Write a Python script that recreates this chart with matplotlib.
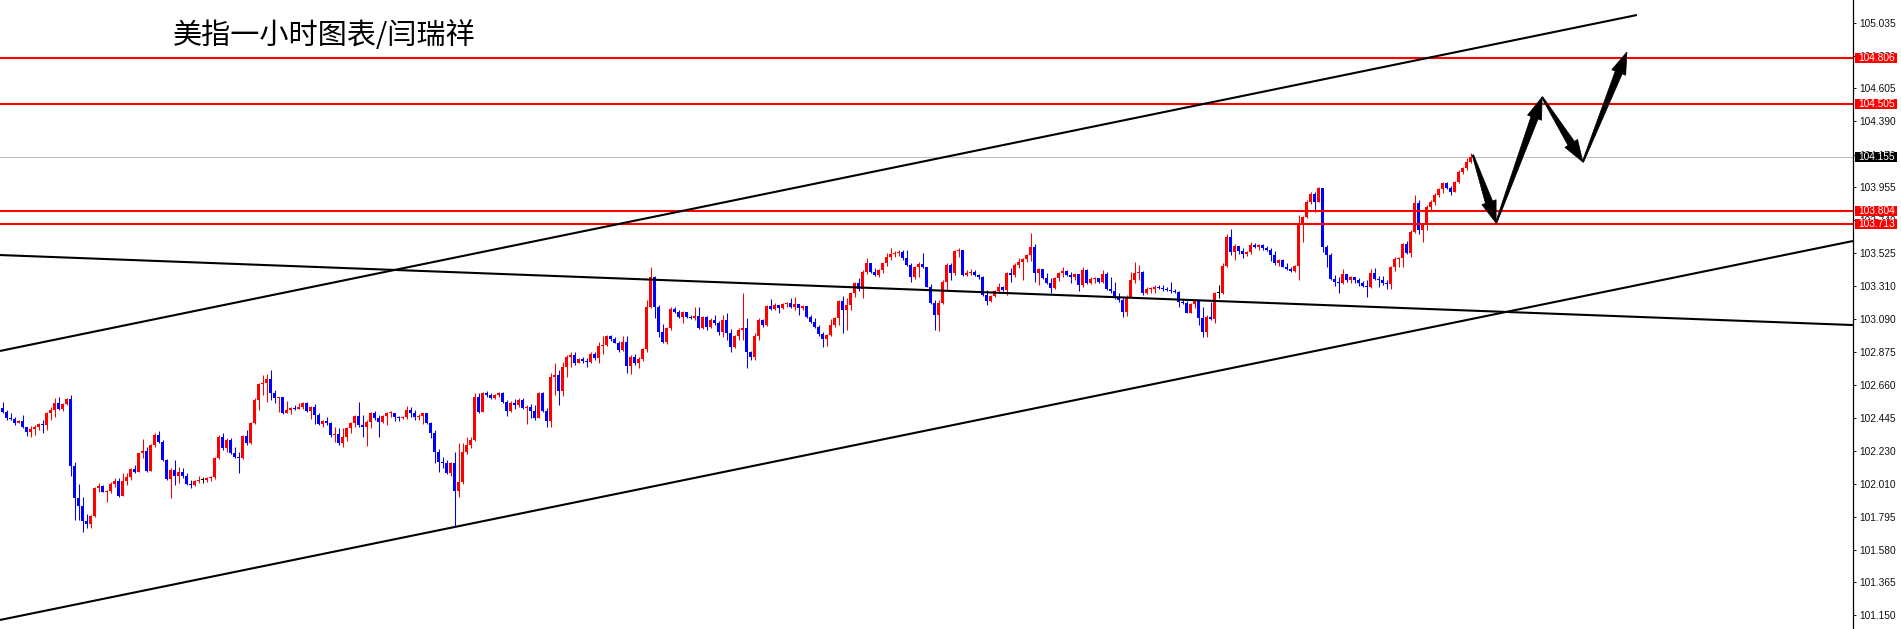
import numpy as np
import matplotlib
matplotlib.use("Agg")
import matplotlib.pyplot as plt
from matplotlib.patches import Polygon, Rectangle
from matplotlib.transforms import IdentityTransform, blended_transform_factory

# ---------------- data ----------------
title = "美指一小时图表/闫瑞祥"

open_first = 102.507
closes = [
    102.485, 102.441, 102.434, 102.408, 102.426, 102.383, 102.350, 102.370, 102.383, 102.404,
    102.398, 102.475, 102.496, 102.544, 102.503, 102.535, 102.566, 102.128, 101.916, 101.867,
    101.770, 101.749, 101.800, 101.982, 101.997, 101.961, 101.967, 102.010, 102.030, 101.931,
    102.032, 102.055, 102.107, 102.090, 102.211, 102.228, 102.098, 102.267, 102.331, 102.288,
    102.168, 102.042, 102.103, 102.060, 102.092, 102.064, 102.010, 102.004, 102.032, 102.036,
    102.036, 102.049, 102.055, 102.179, 102.320, 102.245, 102.299, 102.211, 102.190, 102.179,
    102.325, 102.277, 102.413, 102.562, 102.667, 102.671, 102.697, 102.609, 102.572, 102.579,
    102.479, 102.496, 102.507, 102.503, 102.513,
    102.544, 102.492, 102.513, 102.464, 102.404, 102.426, 102.408, 102.331, 102.338, 102.278,
    102.320, 102.376, 102.408, 102.458, 102.398, 102.387, 102.419, 102.479, 102.441, 102.419,
    102.458, 102.475, 102.479, 102.449, 102.441, 102.449, 102.496, 102.475, 102.449, 102.458,
    102.475, 102.413, 102.344, 102.222, 102.157, 102.151, 102.085, 102.151, 101.967, 102.025,
    102.222, 102.267, 102.299, 102.583, 102.486, 102.605, 102.594, 102.573, 102.594, 102.605,
    102.551, 102.492, 102.544, 102.529, 102.562, 102.507, 102.518, 102.492, 102.441, 102.605,
    102.492, 102.426, 102.714, 102.725, 102.622, 102.776, 102.845, 102.858, 102.806, 102.828,
    102.819, 102.813, 102.864, 102.834, 102.916,
    102.922, 102.982, 102.961, 102.937, 102.890, 102.943, 102.785, 102.845, 102.802, 102.828,
    102.894, 103.174, 103.367, 103.174, 103.010, 102.943, 103.031, 103.155, 103.140, 103.103,
    103.140, 103.103, 103.099, 103.112, 103.031, 103.103, 103.042, 103.086, 103.065, 103.010,
    103.086, 103.003, 102.907, 102.978, 103.021, 103.031, 102.873, 102.841, 102.978, 103.086,
    103.053, 103.178, 103.155, 103.185, 103.163, 103.191, 103.195, 103.174, 103.191, 103.163,
    103.178, 103.103, 103.075, 103.042, 102.995, 102.961, 102.988, 103.053, 103.097, 103.213,
    103.150, 103.185, 103.262, 103.326, 103.288, 103.404, 103.457, 103.404, 103.382, 103.414,
    103.457, 103.501, 103.518, 103.523, 103.531,
    103.490, 103.446, 103.367, 103.431, 103.453, 103.431, 103.305, 103.200, 103.118, 103.200,
    103.337, 103.446, 103.393, 103.540, 103.544, 103.382, 103.397, 103.401, 103.382, 103.371,
    103.249, 103.213, 103.243, 103.273, 103.301, 103.283, 103.393, 103.382, 103.446, 103.469,
    103.484, 103.512, 103.568, 103.393, 103.419, 103.359, 103.331, 103.294, 103.359, 103.393,
    103.410, 103.382, 103.367, 103.388, 103.316, 103.414, 103.331, 103.352, 103.359, 103.337,
    103.388, 103.288, 103.279, 103.238, 103.217, 103.140, 103.238, 103.348, 103.397, 103.404,
    103.262, 103.288, 103.292, 103.305, 103.294, 103.288, 103.283, 103.273, 103.270, 103.206,
    103.200, 103.133, 103.191, 103.213, 103.097,
    103.010, 103.103, 103.094, 103.262, 103.262, 103.440, 103.628, 103.533, 103.572, 103.540,
    103.518, 103.533, 103.578, 103.567, 103.578, 103.555, 103.544, 103.512, 103.457, 103.480,
    103.436, 103.418, 103.410, 103.440, 103.709, 103.763, 103.861, 103.915,
    103.861, 103.950, 103.568, 103.512, 103.352, 103.337, 103.331, 103.389, 103.348, 103.367,
    103.348, 103.326, 103.309, 103.305, 103.397, 103.352, 103.348, 103.331, 103.322, 103.432,
    103.484, 103.491, 103.585, 103.527, 103.664, 103.851, 103.677, 103.709, 103.829, 103.862,
    103.907, 103.943, 103.987, 103.950, 103.928, 103.994, 104.058, 104.081, 104.120, 104.155,
]
highs = [
    102.546, 102.496, 102.475, 102.453, 102.430, 102.464, 102.387, 102.393, 102.398, 102.408,
    102.430, 102.485, 102.513, 102.572, 102.579, 102.539, 102.572, 102.594, 102.157, 102.010,
    101.927, 101.817, 101.807, 101.989, 102.015, 102.004, 101.972, 102.025, 102.049, 102.049,
    102.081, 102.081, 102.113, 102.135, 102.215, 102.303, 102.256, 102.273, 102.342, 102.355,
    102.299, 102.172, 102.113, 102.168, 102.120, 102.113, 102.081, 102.036, 102.036, 102.060,
    102.055, 102.055, 102.060, 102.185, 102.331, 102.342, 102.310, 102.310, 102.256, 102.222,
    102.331, 102.365, 102.419, 102.572, 102.671, 102.725, 102.731, 102.759, 102.626, 102.583,
    102.579, 102.557, 102.518, 102.528, 102.539,
    102.551, 102.551, 102.522, 102.535, 102.479, 102.430, 102.449, 102.419, 102.387, 102.376,
    102.376, 102.387, 102.419, 102.464, 102.551, 102.464, 102.430, 102.486, 102.492, 102.464,
    102.464, 102.483, 102.492, 102.479, 102.458, 102.458, 102.522, 102.518, 102.496, 102.471,
    102.479, 102.479, 102.419, 102.365, 102.237, 102.185, 102.168, 102.157, 102.222, 102.278,
    102.278, 102.320, 102.320, 102.609, 102.605, 102.613, 102.622, 102.609, 102.600, 102.615,
    102.615, 102.562, 102.557, 102.566, 102.573, 102.573, 102.529, 102.535, 102.529, 102.615,
    102.615, 102.507, 102.736, 102.802, 102.759, 102.813, 102.858, 102.879, 102.873, 102.834,
    102.841, 102.834, 102.879, 102.879, 102.944,
    102.978, 102.988, 102.988, 102.973, 102.950, 102.978, 102.978, 102.858, 102.864, 102.845,
    102.901, 103.217, 103.436, 103.376, 103.185, 103.060, 103.042, 103.170, 103.174, 103.150,
    103.146, 103.140, 103.118, 103.170, 103.170, 103.112, 103.112, 103.097, 103.118, 103.082,
    103.118, 103.129, 103.025, 102.988, 103.031, 103.262, 103.097, 102.885, 102.999, 103.097,
    103.090, 103.185, 103.221, 103.200, 103.185, 103.200, 103.204, 103.228, 103.238, 103.191,
    103.185, 103.170, 103.118, 103.097, 103.053, 103.010, 102.995, 103.090, 103.103, 103.217,
    103.243, 103.228, 103.266, 103.337, 103.359, 103.414, 103.490, 103.461, 103.425, 103.419,
    103.461, 103.523, 103.555, 103.540, 103.544,
    103.548, 103.544, 103.461, 103.440, 103.469, 103.523, 103.436, 103.322, 103.217, 103.217,
    103.348, 103.457, 103.457, 103.548, 103.555, 103.548, 103.414, 103.419, 103.414, 103.388,
    103.376, 103.283, 103.249, 103.283, 103.326, 103.309, 103.404, 103.425, 103.457, 103.490,
    103.490, 103.518, 103.654, 103.585, 103.425, 103.404, 103.393, 103.359, 103.367, 103.404,
    103.436, 103.414, 103.404, 103.397, 103.382, 103.436, 103.419, 103.367, 103.371, 103.359,
    103.414, 103.404, 103.371, 103.337, 103.266, 103.238, 103.249, 103.404, 103.469, 103.446,
    103.410, 103.305, 103.301, 103.316, 103.316, 103.316, 103.305, 103.337, 103.288, 103.273,
    103.221, 103.213, 103.200, 103.221, 103.217,
    103.174, 103.118, 103.206, 103.272, 103.315, 103.457, 103.653, 103.681, 103.585, 103.572,
    103.555, 103.540, 103.600, 103.589, 103.585, 103.585, 103.572, 103.561, 103.540, 103.484,
    103.484, 103.457, 103.431, 103.446, 103.776, 103.767, 103.872, 103.928,
    103.928, 103.960, 103.939, 103.578, 103.527, 103.382, 103.371, 103.419, 103.389, 103.376,
    103.359, 103.359, 103.343, 103.348, 103.419, 103.425, 103.376, 103.376, 103.348, 103.440,
    103.497, 103.501, 103.593, 103.606, 103.677, 103.907, 103.874, 103.720, 103.840, 103.874,
    103.917, 103.950, 103.994, 103.994, 103.965, 104.000, 104.069, 104.092, 104.146, 104.182,
]
lows = [
    102.479, 102.430, 102.430, 102.398, 102.408, 102.376, 102.327, 102.320, 102.331, 102.365,
    102.342, 102.365, 102.430, 102.453, 102.496, 102.490, 102.528, 102.060, 101.774, 101.774,
    101.698, 101.720, 101.720, 101.796, 101.961, 101.955, 101.895, 101.950, 101.993, 101.927,
    101.931, 102.004, 102.036, 102.081, 102.090, 102.179, 102.092, 102.098, 102.256, 102.282,
    102.164, 102.036, 101.922, 102.004, 102.015, 102.049, 102.004, 101.982, 101.997, 102.019,
    102.019, 102.025, 102.032, 102.042, 102.172, 102.232, 102.222, 102.207, 102.179, 102.085,
    102.172, 102.267, 102.273, 102.404, 102.496, 102.594, 102.551, 102.562, 102.539, 102.485,
    102.468, 102.475, 102.468, 102.496, 102.501,
    102.501, 102.486, 102.434, 102.404, 102.398, 102.383, 102.398, 102.316, 102.288, 102.267,
    102.256, 102.295, 102.348, 102.387, 102.387, 102.320, 102.260, 102.376, 102.430, 102.320,
    102.413, 102.398, 102.453, 102.426, 102.426, 102.434, 102.434, 102.449, 102.430, 102.430,
    102.404, 102.404, 102.310, 102.151, 102.092, 102.113, 102.077, 102.060, 101.730, 101.927,
    102.010, 102.207, 102.245, 102.295, 102.475, 102.486, 102.579, 102.566, 102.570, 102.579,
    102.544, 102.458, 102.486, 102.501, 102.518, 102.501, 102.404, 102.441, 102.430, 102.441,
    102.486, 102.387, 102.383, 102.594, 102.529, 102.587, 102.710, 102.776, 102.791, 102.802,
    102.806, 102.781, 102.802, 102.824, 102.806,
    102.864, 102.916, 102.950, 102.933, 102.879, 102.885, 102.740, 102.731, 102.791, 102.770,
    102.819, 102.879, 103.163, 103.097, 102.973, 102.937, 102.928, 103.021, 103.129, 103.097,
    103.069, 103.097, 103.090, 103.086, 103.025, 103.025, 103.021, 103.031, 103.053, 102.988,
    102.973, 102.954, 102.879, 102.901, 102.954, 102.954, 102.770, 102.823, 102.823, 102.954,
    103.038, 103.046, 103.150, 103.150, 103.133, 103.155, 103.170, 103.163, 103.150, 103.118,
    103.150, 103.097, 103.069, 103.031, 102.982, 102.907, 102.916, 102.978, 103.038, 103.053,
    103.003, 103.021, 103.150, 103.238, 103.279, 103.228, 103.389, 103.397, 103.376, 103.371,
    103.397, 103.440, 103.480, 103.501, 103.505,
    103.480, 103.440, 103.337, 103.352, 103.371, 103.425, 103.301, 103.191, 103.021, 103.016,
    103.191, 103.273, 103.348, 103.382, 103.501, 103.376, 103.376, 103.382, 103.376, 103.352,
    103.243, 103.185, 103.206, 103.238, 103.262, 103.279, 103.249, 103.337, 103.371, 103.425,
    103.348, 103.469, 103.475, 103.337, 103.316, 103.352, 103.322, 103.262, 103.288, 103.343,
    103.371, 103.376, 103.331, 103.348, 103.273, 103.305, 103.322, 103.322, 103.331, 103.331,
    103.326, 103.283, 103.262, 103.221, 103.206, 103.103, 103.112, 103.228, 103.326, 103.348,
    103.249, 103.256, 103.262, 103.262, 103.288, 103.279, 103.277, 103.266, 103.262, 103.174,
    103.191, 103.129, 103.129, 103.163, 103.053,
    102.977, 102.977, 103.086, 103.069, 103.228, 103.255, 103.431, 103.512, 103.480, 103.522,
    103.490, 103.505, 103.522, 103.555, 103.544, 103.548, 103.540, 103.475, 103.446, 103.440,
    103.431, 103.414, 103.403, 103.403, 103.348, 103.600, 103.752, 103.846,
    103.797, 103.879, 103.533, 103.436, 103.348, 103.309, 103.266, 103.322, 103.337, 103.331,
    103.326, 103.309, 103.305, 103.236, 103.294, 103.348, 103.305, 103.316, 103.288, 103.288,
    103.410, 103.432, 103.432, 103.518, 103.501, 103.654, 103.649, 103.600, 103.677, 103.804,
    103.840, 103.892, 103.917, 103.943, 103.907, 103.928, 103.987, 104.043, 104.069, 104.115,
]

tick_values = [105.035, 104.820, 104.605, 104.390, 104.170, 103.955, 103.740, 103.525,
               103.310, 103.090, 102.875, 102.660, 102.445, 102.230, 102.010, 101.795,
               101.580, 101.365, 101.150]
red_levels = [104.806, 104.505, 103.804, 103.713]
current_price = 104.155

# trend lines (candle index, price)
upper_channel_x = [-0.625, 408.6]
upper_channel_y = [102.883, 105.086]
lower_channel_x = [-0.625, 462.6]
lower_channel_y = [101.119, 103.604]
falling_line_x = [-0.625, 462.6]
falling_line_y = [103.512, 103.053]

# projected zig-zag path (candle index, price)
arrow_x = [367.6, 373.4, 384.9, 395.1, 406.1]
arrow_y = [104.168, 103.722, 104.548, 104.122, 104.843]

# ---------------- figure ----------------
W, H = 1901, 629
fig = plt.figure(figsize=(W / 100, H / 100), dpi=100)
fig.patch.set_facecolor("white")
ax_w_px = 1853
ax = fig.add_axes([0, 0, ax_w_px / W, 1])
ax.set_facecolor("white")
ax.set_xlim(-0.625, (ax_w_px - 2.5) / 4)
ax.set_ylim(101.0598, 105.1844)

for s in ["top", "left", "bottom"]:
    ax.spines[s].set_visible(False)
ax.spines["right"].set_color("black")
ax.spines["right"].set_linewidth(0.9)
ax.xaxis.set_visible(False)
ax.yaxis.tick_right()
ax.set_yticks(tick_values)
ax.set_yticklabels([f"{v:.3f}" for v in tick_values])
ax.tick_params(axis="y", direction="out", length=2.5, width=0.7, pad=2.2,
               labelsize=7.3, colors="#111111")
for lbl in ax.get_yticklabels():
    lbl.set_fontfamily("Liberation Sans")

# candles
c = np.array(closes)
o = np.r_[open_first, c[:-1]]
h = np.maximum(np.array(highs), np.maximum(o, c))
l = np.minimum(np.array(lows), np.minimum(o, c))
x = np.arange(len(c))
cols = np.where(c > o, "#FF0000", np.where(c < o, "#0000FF", "#000000"))
ax.vlines(x, l, h, colors=cols, linewidth=0.75, zorder=2)
ax.bar(x, np.maximum(np.abs(c - o), 0.005), bottom=np.minimum(o, c), width=0.75,
       color=cols, linewidth=0, zorder=3)

# horizontal levels
ax.axhline(current_price, color="#C0C0C0", lw=0.75, zorder=1)
for lv in red_levels:
    ax.axhline(lv, color="#FF0000", lw=1.5, zorder=5)

# trend lines
for xs, ys in [(upper_channel_x, upper_channel_y), (lower_channel_x, lower_channel_y),
               (falling_line_x, falling_line_y)]:
    ax.plot(xs, ys, color="black", lw=1.5, zorder=6, solid_capstyle="butt")

# highlighted price labels on the axis
trans = blended_transform_factory(ax.transAxes, ax.transData)
px_per_unit = H / (105.1844 - 101.0598)
box_h = 10 / px_per_unit
for lv, fc in [(v, "#FF0000") for v in red_levels] + [(current_price, "#000000")]:
    ax.add_patch(Rectangle((1855 / ax_w_px, lv - box_h / 2), 42 / ax_w_px, box_h,
                           transform=trans, facecolor=fc, edgecolor="none",
                           clip_on=False, zorder=10))
    ax.text(1858.5 / ax_w_px, lv, f"{lv:.3f}", transform=trans, color="white",
            fontsize=7.3, family="Liberation Sans", va="center", ha="left",
            zorder=11, clip_on=False)

# tapered arrows
fig.canvas.draw()
def tapered_arrow(p0, p1, head_len=22, head_w=15, shaft_w=7.5):
    a = ax.transData.transform(p0)
    b = ax.transData.transform(p1)
    d = b - a
    L = np.hypot(*d)
    u = d / L
    n = np.array([-u[1], u[0]])
    base = b - u * head_len
    pts = [a + n * 0.7, base + n * shaft_w / 2, base + n * head_w / 2, b,
           base - n * head_w / 2, base - n * shaft_w / 2, a - n * 0.7]
    poly = Polygon(pts, closed=True, transform=IdentityTransform(),
                   facecolor="black", edgecolor="black", lw=0.5, zorder=12)
    fig.add_artist(poly)

for k in range(len(arrow_x) - 1):
    tapered_arrow((arrow_x[k], arrow_y[k]), (arrow_x[k + 1], arrow_y[k + 1]))

# title
fig.text(173 / W, 1 - 36 / H, title, fontsize=21,
         family=["Noto Sans CJK SC", "DejaVu Sans"], va="center", ha="left",
         color="black")

fig.savefig("out.png", dpi=100, facecolor="white")
